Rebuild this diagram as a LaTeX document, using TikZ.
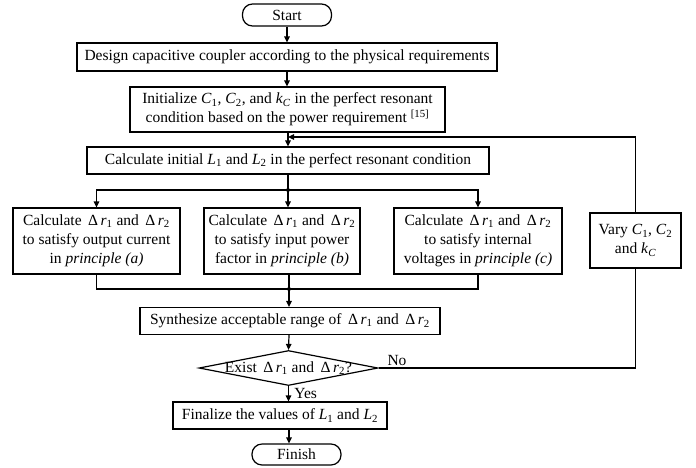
\documentclass[tikz,border=0pt]{standalone}
\usepackage{fontspec}
\setmainfont{Liberation Serif}
\usetikzlibrary{shapes.geometric,arrows.meta}
\newcommand{\var}[2]{\textit{#1}\textsubscript{#2}}
\newcommand{\dr}[1]{Δ\,\textit{r}\textsubscript{#1}}
\begin{document}
\begin{tikzpicture}[x=1pt, y=-1pt, >={Triangle[length=6pt,width=5.5pt]}, line width=1.2pt,
  every node/.style={font=\fontsize{15.5}{19}\selectfont},
  procbox/.style={draw, rectangle, align=center, inner sep=0pt},
  termbox/.style={draw, rectangle, rounded corners=10pt, inner sep=0pt, minimum width=89pt, minimum height=22pt},
  decision/.style={draw, diamond, inner sep=0pt, minimum width=179pt, minimum height=35pt},
  junction/.style={circle, fill, inner sep=0pt, minimum size=4pt}]
  \useasboundingbox (0,0) rectangle (696,467);

  % 1. main column
  \node[termbox] (start) at (287,15) {Start};
  \node[procbox, minimum width=420pt, minimum height=28pt] (design) at (287,57)
    {Design capacitive coupler according to the physical requirements};
  \node[procbox, minimum width=315pt, minimum height=45pt] (init) at (287.5,109.5)
    {Initialize \var{C}{1}, \var{C}{2}, and \textit{k}\textsubscript{\textit{C}} in the perfect resonant\\
     condition based on the power requirement \textsuperscript{[15]}};
  \node[procbox, minimum width=402pt, minimum height=27pt] (calc) at (288,160.5)
    {Calculate initial \var{L}{1} and \var{L}{2} in the perfect resonant condition};

  % 2. three principles
  \node[procbox, minimum width=167pt, minimum height=66pt] (pa) at (96.5,241)
    {Calculate \,\dr{1} and \,\dr{2}\\ to satisfy output current\\ in \textit{principle (a)}};
  \node[procbox, minimum width=156pt, minimum height=66pt] (pb) at (282,241)
    {Calculate \,\dr{1} and \,\dr{2}\\ to satisfy input power\\ factor in \textit{principle (b)}};
  \node[procbox, minimum width=168pt, minimum height=66pt] (pc) at (478,241)
    {Calculate \,\dr{1} and \,\dr{2}\\ to satisfy internal\\ voltages in \textit{principle (c)}};
  \node[procbox, minimum width=91pt, minimum height=55pt] (vary) at (635.5,240.5)
    {Vary \var{C}{1}, \var{C}{2}\\ and \textit{k}\textsubscript{\textit{C}}};

  % 3. lower column
  \node[procbox, minimum width=300pt, minimum height=27pt] (synth) at (290,321)
    {Synthesize acceptable range of \,\dr{1} and \,\dr{2}};
  \node[decision] (exist) at (288.5,368) {};
  \node (existtxt) at (exist.center) {Exist \,\dr{1} and \,\dr{2}?};
  \node[procbox, minimum width=214pt, minimum height=27pt] (fin) at (280,415.5)
    {Finalize the values of \var{L}{1} and \var{L}{2}};
  \node[termbox, minimum height=21pt] (finish) at (296.5,454.5) {Finish};

  % 4. junctions
  \coordinate (split) at (288,190);
  \coordinate (join) at (289,289);
  \coordinate (back) at (288,137);
  \node[junction] at (split) {};
  \node[junction] at (join) {};

  % 5. connectors
  \draw[->] (start.south -| design.north) -- (design.north -| start.south);
  \draw[->] (design.south -| start.south) -- (init.north -| start.south);
  \draw[->] (init.south -| back) -- (calc.north -| back);
  \draw (calc.south -| split) -- (split);
  \draw[->] (split) -| (pa.north);
  \draw[->] (split) -- (split |- pb.north);
  \draw[->] (split) -| (pc.north);
  \draw (pa.south) |- (join);
  \draw (pc.south) |- (join);
  \draw (pb.south -| join) -- (join);
  \draw[->] (join) -- (join |- synth.north);
  \draw[->] (synth.south -| join) -- (exist.north);
  \draw[->] (exist.south) -- (exist.south |- fin.north) node[midway, right, xshift=2pt] {Yes};
  \draw[->] (fin.south -| join) -- (finish.north -| join);

  % 6. feedback loop
  \draw (exist.east) -| (vary.south);
  \node at (397,360) {No};
  \draw[->] (vary.north) |- (back);
\end{tikzpicture}
\end{document}
